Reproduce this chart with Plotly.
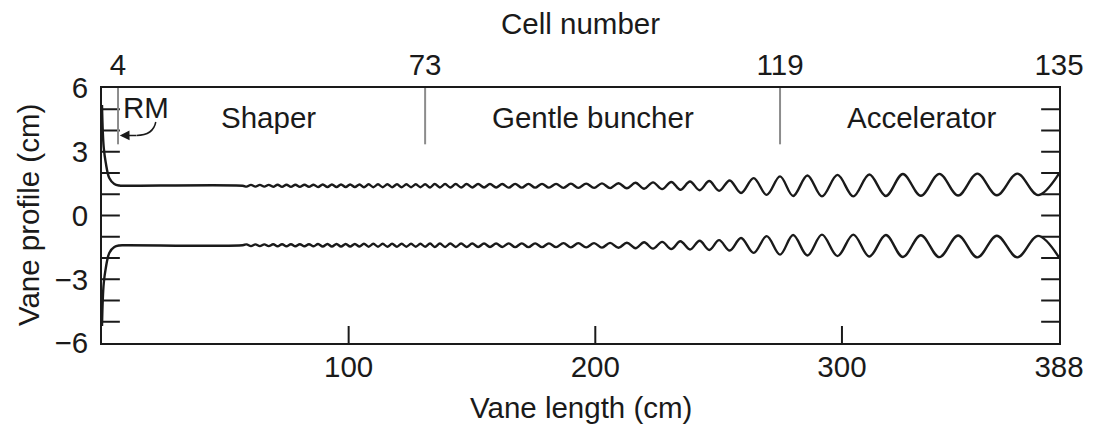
import plotly.graph_objects as go

# ---------------- data ----------------
# Entrance (radial matcher) part of the upper vane, cm
entrance_x = [0.0, 0.3, 0.7, 1.5, 3.0, 5.0, 7.0, 9.0, 57.0]
entrance_y = [5.2, 4.0, 3.2, 2.5, 1.75, 1.48, 1.41, 1.40, 1.40]

# Cell boundaries (cells 34 ... 135): longitudinal position (cm)
cell_x = [58.6, 60.4, 62.2, 64.0, 65.8, 67.6, 69.4, 71.2, 73.0, 74.8,
          76.6, 78.4, 80.2, 82.1, 83.9, 85.8, 87.6, 89.5, 91.4, 93.2,
          95.1, 96.9, 98.8, 100.6, 102.5, 104.4, 106.2, 108.1, 110.0, 111.9,
          113.8, 115.7, 117.6, 119.6, 121.5, 123.4, 125.3, 127.2, 129.1, 131.0,
          133.0, 134.9, 137.0, 139.1, 141.2, 143.4, 145.6, 147.8, 150.1, 152.5,
          154.9, 157.3, 159.8, 162.3, 164.9, 167.5, 170.2, 172.9, 175.6, 178.4,
          181.2, 184.1, 187.1, 190.1, 193.1, 196.3, 199.5, 202.7, 206.0, 209.4,
          212.8, 216.3, 219.8, 223.4, 227.1, 230.8, 234.5, 238.4, 242.3, 246.2,
          250.2, 254.5, 259.1, 264.2, 269.5, 274.9, 280.2, 286.0, 291.9, 298.2,
          304.6, 311.1, 317.8, 324.7, 332.0, 339.5, 347.1, 354.9, 362.8, 371.1,
          379.5, 388.0]
# Upper-vane aperture at those boundaries (cm)
cell_y = [1.36, 1.44, 1.36, 1.44, 1.36, 1.44, 1.35, 1.45, 1.35, 1.45,
          1.35, 1.45, 1.35, 1.45, 1.35, 1.45, 1.34, 1.46, 1.34, 1.46,
          1.34, 1.46, 1.34, 1.46, 1.34, 1.46, 1.33, 1.47, 1.33, 1.47,
          1.33, 1.47, 1.33, 1.47, 1.33, 1.47, 1.33, 1.47, 1.33, 1.47,
          1.32, 1.48, 1.32, 1.48, 1.32, 1.48, 1.32, 1.48, 1.32, 1.48,
          1.32, 1.48, 1.32, 1.48, 1.31, 1.49, 1.31, 1.49, 1.31, 1.49,
          1.31, 1.49, 1.30, 1.50, 1.30, 1.50, 1.30, 1.51, 1.29, 1.52,
          1.28, 1.54, 1.26, 1.56, 1.24, 1.58, 1.21, 1.60, 1.19, 1.62,
          1.16, 1.65, 1.06, 1.76, 0.97, 1.84, 0.92, 1.88, 0.90, 1.91,
          0.90, 1.93, 0.92, 1.95, 0.93, 1.96, 0.94, 1.97, 0.95, 1.97,
          0.96, 1.97]

# Section boundaries (cell numbers on the top axis)
top_tick_x = [6.5, 131.0, 274.9, 388.0]
top_tick_text = ["4", "73", "119", "135"]
section_line_x = [6.5, 131.0, 274.9]
section_names = ["Shaper", "Gentle buncher", "Accelerator"]
section_label_x = [67.4, 199.0, 332.3]

bottom_tick_x = [100, 200, 300, 388]
bottom_tick_text = ["100", "200", "300", "388"]
y_tick_vals = list(range(-6, 7))
y_tick_text = ["\u22126", "", "", "\u22123", "", "", "0", "", "", "3", "", "", "6"]

# ---------------- figure ----------------
upper_x = entrance_x + cell_x
upper_y = entrance_y + cell_y
lower_y = [-v for v in upper_y]

FONT = "Liberation Sans, Arial, sans-serif"
FS = 29.5
INK = "#1a1a1a"
CLEAR = "rgba(0,0,0,0)"
PLOT_W, PLOT_H = 965, 255
YTICK_LEN, XTICK_LEN = 18, 17

fig = go.Figure()
fig.add_trace(go.Scatter(x=upper_x, y=upper_y, mode="lines",
                         line=dict(color=INK, width=2.4, shape="spline", smoothing=1.0),
                         hoverinfo="skip", showlegend=False))
fig.add_trace(go.Scatter(x=upper_x, y=lower_y, mode="lines", xaxis="x2",
                         line=dict(color=INK, width=2.4, shape="spline", smoothing=1.0),
                         hoverinfo="skip", showlegend=False))

shapes = []
# inward tick marks on left and right sides (every integer)
for yv in y_tick_vals[1:-1]:
    shapes.append(dict(type="line", xref="paper", yref="y", x0=0, x1=YTICK_LEN / PLOT_W,
                       y0=yv, y1=yv, line=dict(color=INK, width=2)))
    shapes.append(dict(type="line", xref="paper", yref="y", x0=1 - YTICK_LEN / PLOT_W, x1=1,
                       y0=yv, y1=yv, line=dict(color=INK, width=2)))
# inward tick marks on the bottom axis
for xv in bottom_tick_x[:-1]:
    shapes.append(dict(type="line", xref="x", yref="paper", x0=xv, x1=xv,
                       y0=0, y1=XTICK_LEN / PLOT_H, line=dict(color=INK, width=2)))
for xv in section_line_x:
    shapes.append(dict(type="line", xref="x", yref="y", x0=xv, x1=xv, y0=6, y1=3.35,
                       line=dict(color="#8c8c8c", width=2)))
# RM curved arrow body
shapes.append(dict(type="path", xref="x", yref="y",
                   path="M 21.8,4.40 Q 20.8,3.78 14.0,3.77",
                   line=dict(color=INK, width=1.5)))

annotations = []
for name, xv in zip(section_names, section_label_x):
    annotations.append(dict(x=xv, y=4.62, xref="x", yref="y", text=name, showarrow=False,
                            font=dict(family=FONT, size=FS, color=INK)))
annotations.append(dict(x=17.8, y=5.08, xref="x", yref="y", text="RM", showarrow=False,
                        font=dict(family=FONT, size=FS, color=INK)))
annotations.append(dict(x=7.2, y=3.76, ax=14.5, ay=3.77, xref="x", yref="y",
                        axref="x", ayref="y", text="", showarrow=True,
                        arrowhead=2, arrowsize=1.3, arrowwidth=1.5, arrowcolor=INK))
annotations.append(dict(x=0.5, y=1.253, xref="paper", yref="paper", text="Cell number",
                        xanchor="center", yanchor="middle", showarrow=False,
                        font=dict(family=FONT, size=FS, color=INK)))
annotations.append(dict(x=0.5, y=-0.253, xref="paper", yref="paper", text="Vane length (cm)",
                        xanchor="center", yanchor="middle", showarrow=False,
                        font=dict(family=FONT, size=FS, color=INK)))
annotations.append(dict(x=-0.0767, y=0.5, xref="paper", yref="paper", text="Vane profile (cm)",
                        xanchor="center", yanchor="middle", textangle=-90, showarrow=False,
                        font=dict(family=FONT, size=FS, color=INK)))

fig.update_layout(
    width=1096, height=427,
    margin=dict(l=102, r=29, t=88, b=84),
    paper_bgcolor="white", plot_bgcolor="white",
    font=dict(family=FONT, size=FS, color=INK),
    shapes=shapes, annotations=annotations,
    xaxis=dict(range=[0, 388], tickmode="array", tickvals=bottom_tick_x,
               ticktext=bottom_tick_text, ticks="inside", ticklen=XTICK_LEN, tickwidth=2,
               tickcolor=CLEAR, showline=True, linewidth=2, linecolor=INK,
               mirror=True, showgrid=False, zeroline=False, ticklabelstandoff=-3,
               tickfont=dict(family=FONT, size=FS, color=INK)),
    xaxis2=dict(range=[0, 388], overlaying="x", side="top", tickmode="array",
                tickvals=top_tick_x, ticktext=top_tick_text, ticks="",
                showline=False, showgrid=False, zeroline=False, ticklabelstandoff=6,
                tickfont=dict(family=FONT, size=FS, color=INK)),
    yaxis=dict(range=[-6, 6], tickmode="array", tickvals=y_tick_vals, ticktext=y_tick_text,
               ticks="inside", ticklen=YTICK_LEN, tickwidth=2, tickcolor=CLEAR,
               showline=True, linewidth=2, linecolor=INK, mirror=True,
               showgrid=False, zeroline=False, ticklabelstandoff=6,
               tickfont=dict(family=FONT, size=FS, color=INK)),
)

fig.write_html("out.html")
